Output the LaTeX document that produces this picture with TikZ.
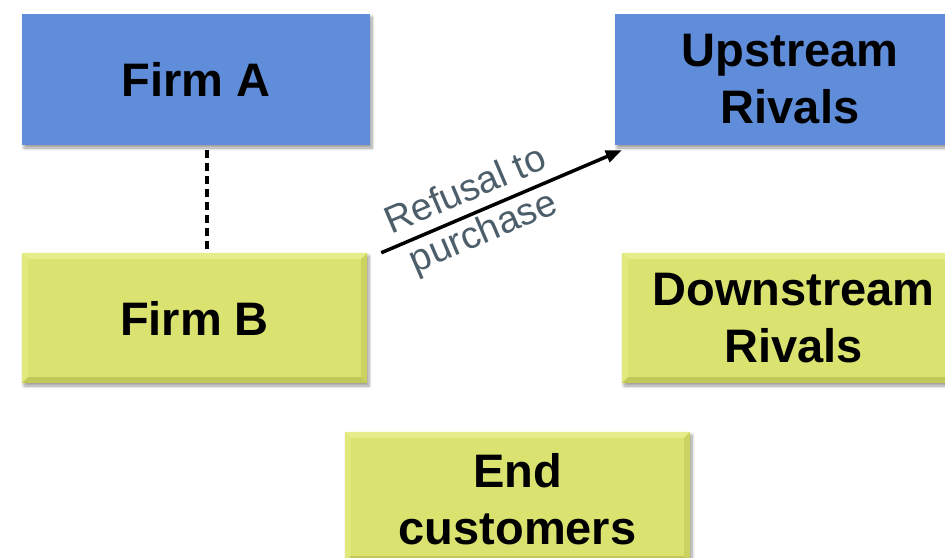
\documentclass[tikz,border=0pt]{standalone}
\usepackage{fontspec}
\setmainfont{Liberation Sans}
\usetikzlibrary{arrows.meta,shadows.blur,calc}
\definecolor{upblue}{RGB}{96,141,218}
\definecolor{downgreen}{RGB}{219,227,112}
\definecolor{bevtop}{RGB}{232,237,140}
\definecolor{bevleft}{RGB}{225,232,124}
\definecolor{bevright}{RGB}{203,210,96}
\definecolor{bevbottom}{RGB}{193,200,90}
\definecolor{labelgrey}{RGB}{77,94,107}
\tikzset{
  boxtext/.style={font=\fontsize{47}{57}\selectfont\bfseries, align=center, text=black},
  bluebox/.style={boxtext, rectangle, fill=upblue, inner sep=0pt,
    blur shadow={shadow xshift=2pt, shadow yshift=-3pt, shadow blur steps=6, shadow blur radius=3pt}},
  greenbox/.style={boxtext, rectangle, fill=downgreen, inner sep=0pt,
    blur shadow={shadow xshift=2pt, shadow yshift=-3pt, shadow blur steps=6, shadow blur radius=3pt}},
  linklabel/.style={font=\fontsize{38}{45}\selectfont, text=labelgrey, align=center, sloped},
}
% bevelled edges of a green box (drawn over its fill, under its text)
\newcommand{\bevelbox}[1]{%
  \fill[bevtop] (#1.north west) -- (#1.north east) -- ($(#1.north east)+(-6,6)$) -- ($(#1.north west)+(6,6)$) -- cycle;
  \fill[bevleft] (#1.north west) -- ($(#1.north west)+(6,6)$) -- ($(#1.south west)+(6,-6)$) -- (#1.south west) -- cycle;
  \fill[bevright] (#1.north east) -- (#1.south east) -- ($(#1.south east)+(-6,-6)$) -- ($(#1.north east)+(-6,6)$) -- cycle;
  \fill[bevbottom] (#1.south west) -- (#1.south east) -- ($(#1.south east)+(-6,-6)$) -- ($(#1.south west)+(6,-6)$) -- cycle;
}
\begin{document}
\begin{tikzpicture}[x=1pt, y=-1pt]
  \useasboundingbox (0,0) rectangle (945,557);
  \clip (0,0) rectangle (945,557);

  % upstream level
  \node[bluebox, minimum width=348pt, minimum height=131pt] (firmA) at (196,79.5) {};
  \node[bluebox, minimum width=350pt, minimum height=131pt] (uprivals) at (790,79.5) {};

  % downstream level
  \node[greenbox, minimum width=345pt, minimum height=130pt] (firmB) at (194.5,318) {};
  \node[greenbox, minimum width=343pt, minimum height=130pt] (downrivals) at (793.5,318) {};
  \node[greenbox, minimum width=345pt, minimum height=130pt] (endcust) at (517.5,497) {};

  \bevelbox{firmB}
  \bevelbox{downrivals}
  \bevelbox{endcust}

  % box captions
  \node[boxtext] at (firmA.center) {Firm A};
  \node[boxtext] at (uprivals.center) {Upstream\\Rivals};
  \node[boxtext] at (firmB.center) {Firm B};
  \node[boxtext] at (downrivals.center) {Downstream\\Rivals};
  \node[boxtext] at ([yshift=-2pt]endcust.center) {End\\customers};

  % vertical integration link
  \draw[line width=3.2pt, dash pattern=on 8pt off 5pt]
    ([xshift=11pt, yshift=-5pt]firmA.south) -- ([xshift=12.5pt]firmB.north);

  % refusal to purchase
  \draw[line width=3.5pt, -{Triangle[length=16pt, width=12pt]}]
    ([xshift=14pt]firmB.north east) -- ([xshift=7pt, yshift=-5pt]uprivals.south west)
    node[linklabel, pos=0.39] {Refusal to\\purchase};
\end{tikzpicture}
\end{document}
